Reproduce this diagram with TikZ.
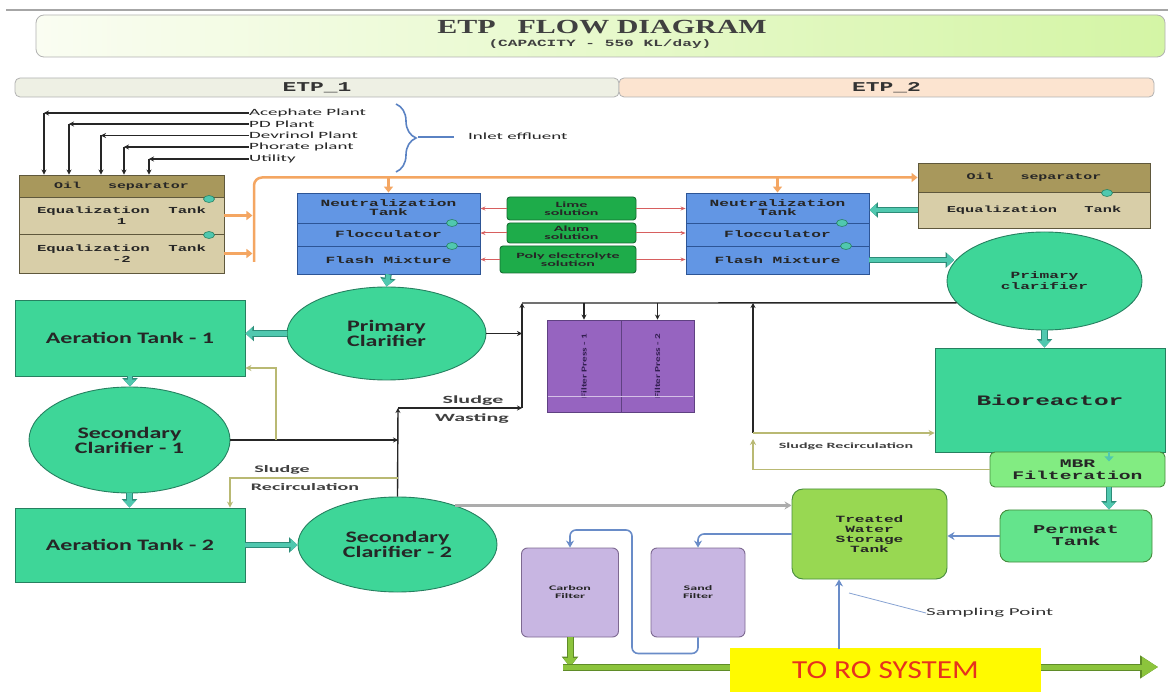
\documentclass[tikz,border=0pt]{standalone}
\usepackage{fontspec}
\usepackage{graphicx}
\setmainfont{Carlito}
\newfontfamily\fM{Liberation Mono}[FakeStretch=1.7]
\newfontfamily\fT{Liberation Serif}[FakeStretch=1.5]
\newfontfamily\fS{Carlito}[FakeStretch=1.5]
\newfontfamily\fW{Carlito}[FakeStretch=2.0]
\newfontfamily\fR{Carlito}[FakeStretch=1.2]
\newcommand\FZ[2]{\fontsize{#1}{#2}\selectfont}
\usetikzlibrary{shapes.geometric,arrows.meta,decorations.pathreplacing}
\definecolor{tealF}{RGB}{62,214,152}
\definecolor{tealD}{RGB}{38,128,96}
\definecolor{tealA}{RGB}{80,200,175}
\definecolor{tealO}{RGB}{45,140,120}
\definecolor{blueF}{RGB}{98,150,228}
\definecolor{blueD}{RGB}{45,85,150}
\definecolor{oilF}{RGB}{168,152,92}
\definecolor{eqF}{RGB}{216,206,168}
\definecolor{brD}{RGB}{95,88,60}
\definecolor{chemF}{RGB}{30,172,74}
\definecolor{chemD}{RGB}{20,110,50}
\definecolor{purF}{RGB}{150,100,192}
\definecolor{purD}{RGB}{95,65,130}
\definecolor{lavF}{RGB}{200,182,226}
\definecolor{lavD}{RGB}{125,105,145}
\definecolor{mbrF}{RGB}{130,236,130}
\definecolor{permF}{RGB}{100,228,140}
\definecolor{twF}{RGB}{152,216,82}
\definecolor{grD}{RGB}{70,140,60}
\definecolor{orA}{RGB}{244,166,98}
\definecolor{khA}{RGB}{185,185,115}
\definecolor{pipeB}{RGB}{105,140,200}
\definecolor{roG}{RGB}{140,196,60}
\definecolor{roGD}{RGB}{95,140,40}
\definecolor{redA}{RGB}{215,95,95}
\definecolor{brc}{RGB}{90,130,195}
\definecolor{titL}{RGB}{250,253,242}
\definecolor{titR}{RGB}{212,245,165}
\definecolor{etpA}{RGB}{238,240,228}
\definecolor{etpB}{RGB}{252,228,208}
\definecolor{roY}{RGB}{255,250,0}
\definecolor{roT}{RGB}{230,50,30}
\tikzset{
  box/.style={draw, line width=0.9pt, inner sep=0pt, align=center, text=black!85},
  tealbox/.style={box, fill=tealF, draw=tealD, font=\fS\bfseries\FZ{16}{15}},
  clar/.style={ellipse, box, fill=tealF, draw=tealD, font=\fS\bfseries\FZ{16}{15}},
  bluebox/.style={box, fill=blueF, draw=blueD, minimum width=183pt, font=\fM\bfseries\FZ{9.5}{9}},
  oilbox/.style={box, fill=oilF, draw=brD, font=\fM\bfseries\FZ{8.8}{10}},
  eqbox/.style={box, fill=eqF, draw=brD, font=\fM\bfseries\FZ{9.2}{11}},
  chem/.style={box, fill=chemF, draw=chemD, rounded corners=3pt, font=\fW\bfseries\FZ{8}{8}},
  filt/.style={box, fill=lavF, draw=lavD, rounded corners=6pt, font=\fW\bfseries\FZ{7}{8}},
  bar/.style={draw=gray!60, line width=0.8pt, rounded corners=5pt, inner sep=0pt, minimum height=19pt, font=\fM\bfseries\FZ{13.5}{14}, text=black!80},
  plant/.style={inner sep=0pt, font=\fW\FZ{9.5}{10}, text=black!85},
  slbl/.style={inner sep=0pt, align=center, font=\fW\bfseries\FZ{11}{12}, text=black!75},
  valve/.style={ellipse, draw=tealD, fill=tealA, line width=0.6pt, minimum width=11pt, minimum height=7pt, inner sep=0pt},
  fat/.style={line width=4.5pt, draw=tealA, -{Triangle[length=7pt,width=12pt]},
              preaction={draw=tealO, line width=6.5pt, -{Triangle[length=8.5pt,width=15pt]}}},
  orng/.style={line width=2.5pt, draw=orA, -{Triangle[length=6pt,width=9pt]}},
  inl/.style={line width=1.3pt, draw=black!85, -{Stealth[length=5pt,width=5pt]}},
  blk/.style={line width=1.4pt, draw=black!85, -{Stealth[length=5pt,width=5pt]}},
  kh/.style={line width=1.6pt, draw=khA, -{Stealth[length=6pt,width=6pt]}},
  pipe/.style={line width=1.6pt, draw=pipeB, -{Stealth[length=7pt,width=8pt]}},
  redar/.style={line width=1pt, draw=redA, -{Stealth[length=5pt,width=4pt]}},
  gryar/.style={line width=2.5pt, draw=gray!65, -{Stealth[length=7pt,width=8pt]}},
  grn/.style={line width=5pt, draw=roG, -{Triangle[length=9pt,width=13pt]},
              preaction={draw=roGD, line width=7pt, -{Triangle[length=10.5pt,width=16pt]}}},
  grnbig/.style={line width=5pt, draw=roG, -{Triangle[length=16pt,width=19pt]},
              preaction={draw=roGD, line width=7pt, -{Triangle[length=18pt,width=22pt]}}},
}
\begin{document}
\begin{tikzpicture}[x=1pt,y=-1pt]
\useasboundingbox (0,0) rectangle (1168,692);
\fill[white] (0,0) rectangle (1168,692);
\draw[gray!70, line width=2pt] (6,10) -- (1168,10);

% ---- title and section bars
\node[draw=gray!60, line width=0.8pt, rounded corners=8pt, left color=titL, right color=titR,
      minimum width=1129pt, minimum height=42pt, inner sep=0pt] (title) at (600.5,36) {};
\node[inner sep=0pt, font=\fT\bfseries\FZ{20}{20}, text=black!75] (ttl) at (602,27) {ETP\hspace{1.1em}FLOW DIAGRAM};
\node[inner sep=0pt, font=\fM\bfseries\FZ{9.5}{10}, text=black!75] (cap) at (600,44) {(CAPACITY - 550 KL/day)};
\node[bar, fill=etpA, minimum width=604pt] (etp1) at (317,87.5) {ETP\_1};
\node[bar, fill=etpB, minimum width=535pt] (etp2) at (886.5,87.5) {ETP\_2};

% ---- inlet sources
\node[plant, anchor=west] (pA) at (249,113) {Acephate Plant};
\node[plant, anchor=west] (pB) at (249,124) {PD Plant};
\node[plant, anchor=west] (pC) at (249,135.5) {Devrinol Plant};
\node[plant, anchor=west] (pD) at (249,147) {Phorate plant};
\node[plant, anchor=west] (pE) at (249,159) {Utility};
\node[inner sep=0pt, anchor=west, font=\fW\FZ{9.5}{10}, text=black!85] (inlet) at (468,136) {Inlet effluent};
\coordinate (cA) at (44,113);
\coordinate (cB) at (69,124);
\coordinate (cC) at (101,135.5);
\coordinate (cD) at (124,147);
\coordinate (cE) at (149,159);
\coordinate (bt) at (418,137);

% ---- ETP 1 front end
\node[oilbox, minimum width=205pt, minimum height=22pt] (oilL) at (121.5,186) {Oil~~~separator};
\node[eqbox, minimum width=205pt, minimum height=37pt] (eq1) at (121.5,215.5) {Equalization~~Tank\\1};
\node[eqbox, minimum width=205pt, minimum height=39pt] (eq2) at (121.5,253.5) {Equalization~~Tank\\-2};
\node[bluebox, minimum height=30pt] (neutL) at (388.5,208) {Neutralization\\Tank};
\node[bluebox, minimum height=23pt] (flocL) at (388.5,234.5) {Flocculator};
\node[bluebox, minimum height=28pt] (flashL) at (388.5,260) {Flash Mixture};
\node[chem, minimum width=129pt, minimum height=23pt] (lime) at (571.5,208.5) {Lime\\solution};
\node[chem, minimum width=129pt, minimum height=20pt] (alum) at (571.5,233) {Alum\\solution};
\node[chem, minimum width=136pt, minimum height=27pt] (poly) at (568,259.5) {Poly electrolyte\\solution};
\node[bluebox, minimum height=30pt] (neutR) at (777.5,208) {Neutralization\\Tank};
\node[bluebox, minimum height=23pt] (flocR) at (777.5,234.5) {Flocculator};
\node[bluebox, minimum height=28pt] (flashR) at (777.5,260) {Flash Mixture};
\node[oilbox, minimum width=232pt, minimum height=29pt] (oilR) at (1034,177.5) {Oil~~~separator};
\node[eqbox, minimum width=232pt, minimum height=36pt, font=\fM\bfseries\FZ{9}{10}] (eqR) at (1034,210) {Equalization~~~Tank};

\node[valve] (v1) at (209,199) {};
\node[valve] (v2) at (209,235) {};
\node[valve] (v3) at (452,223) {};
\node[valve] (v4) at (452,246) {};
\node[valve] (v5) at (842,223) {};
\node[valve] (v6) at (846,246) {};
\node[valve] (v7) at (1107,193) {};

% ---- ETP 1 biological section
\node[clar, minimum width=199pt, minimum height=93pt] (clarL) at (386.5,333.5) {Primary\\Clarifier};
\node[tealbox, minimum width=230pt, minimum height=76pt] (aer1) at (130,338) {Aeration Tank - 1};
\node[clar, minimum width=201pt, minimum height=106pt] (sec1) at (129.5,440) {Secondary\\Clarifier - 1};
\node[tealbox, minimum width=230pt, minimum height=74pt] (aer2) at (130,545) {Aeration Tank - 2};
\node[clar, minimum width=199pt, minimum height=95pt] (sec2) at (397.5,544.5) {Secondary\\Clarifier - 2};

% ---- filter presses
\node[box, fill=purF, draw=purD, minimum width=74pt, minimum height=92pt, font=\fS\bfseries\FZ{7.5}{8}, text={rgb,255:red,50;green,30;blue,80}] (fp1) at (584,366) {\rotatebox{90}{Filter Press - 1}};
\node[box, fill=purF, draw=purD, minimum width=73pt, minimum height=92pt, font=\fS\bfseries\FZ{7.5}{8}, text={rgb,255:red,50;green,30;blue,80}] (fp2) at (657.5,366) {\rotatebox{90}{Filter Press - 2}};
\draw[purF!40!white, line width=1pt] (548,397) -- (693,397);

% ---- ETP 2 biological section
\node[ellipse, box, fill=tealF, draw=tealD, minimum width=195pt, minimum height=98pt, font=\fM\bfseries\FZ{9.5}{11}] (clarR) at (1044.5,281) {Primary\\clarifier};
\node[box, fill=tealF, draw=tealD, minimum width=230pt, minimum height=104pt, font=\fM\bfseries\FZ{14.4}{15}] (bio) at (1050,400) {Bioreactor};
\node[box, fill=mbrF, draw=grD, rounded corners=5pt, minimum width=175pt, minimum height=35pt, font=\fM\bfseries\FZ{11.6}{12}] (mbr) at (1077.5,469.5) {MBR\\Filteration};
\node[box, fill=permF, draw=grD, rounded corners=9pt, minimum width=152pt, minimum height=52pt, font=\fM\bfseries\FZ{12}{12}] (perm) at (1076,536) {Permeat\\Tank};
\node[box, fill=twF, draw=grD, rounded corners=11pt, minimum width=155pt, minimum height=90pt, font=\fM\bfseries\FZ{9.5}{10}] (twst) at (869.5,534) {Treated\\Water\\Storage\\Tank};
\node[filt, minimum width=97pt, minimum height=89pt] (carbon) at (570,592.5) {Carbon\\Filter};
\node[filt, minimum width=94pt, minimum height=89pt] (sand) at (698,592.5) {Sand\\Filter};

% ---- labels
\node[slbl] (swA) at (473,401) {Sludge};
\node[slbl] (swB) at (472,419) {Wasting};
\node[slbl, font=\fW\bfseries\FZ{10}{11}] (srA) at (282,470) {Sludge};
\node[slbl, font=\fW\bfseries\FZ{10}{11}] (srB) at (305,487) {Recirculation};
\node[slbl, font=\fW\bfseries\FZ{8}{9}] (srC) at (846,446) {Sludge Recirculation};
\node[inner sep=0pt, anchor=west, font=\fW\FZ{10.5}{11}, text=black!80] (samp) at (926,613) {Sampling Point};

% ---- coordinates for pipe corners
\coordinate (j1) at (398,440);
\coordinate (k1) at (276,440);
\coordinate (k2) at (276,368);
\coordinate (j2) at (398,408);
\coordinate (j3) at (522,408);
\coordinate (j4) at (522,303);
\coordinate (m1) at (753,433);
\coordinate (m2) at (753,439);
\coordinate (r1) at (398,478);
\coordinate (r2) at (230,478);
\coordinate (op) at (254,262);
\coordinate (oh) at (254,178);
\coordinate (xm) at (1109,0);
\coordinate (lp) at (632,530);
\coordinate (g1) at (563,667);
\coordinate (g2) at (1158,667);
\coordinate (sxb) at (839,649);
\coordinate (sp) at (849,593);

% ---- inlet lines
\foreach \p/\c in {pA/cA,pB/cB,pC/cC,pD/cD,pE/cE}{
  \draw[inl] (\p.west) -- (\c);
  \draw[inl] (\c) -- (\c |- oilL.north);
}
\draw[brc, line width=1.6pt, decorate, decoration={brace, amplitude=20pt}] (396,104) -- (396,172);
\draw[brc, line width=1.4pt] (bt) -- ++(36,0);

% ---- orange distribution
\draw[orng] (eq1.east) -- ++(28,0);
\draw[orng] (eq2.east) -- ++(28,0);
\draw[orng, rounded corners=8pt] (op) |- (oilR.west);
\draw[orng] (neutL.north |- oh) -- (neutL.north);
\draw[orng] (neutR.north |- oh) -- (neutR.north);

% ---- chemical dosing
\draw[redar] (lime.west) -- (lime.west -| neutL.east);
\draw[redar] (alum.west) -- (alum.west -| flocL.east);
\draw[redar] (poly.west) -- (poly.west -| flashL.east);
\draw[redar] (lime.east) -- (lime.east -| neutR.west);
\draw[redar] (alum.east) -- (alum.east -| flocR.west);
\draw[redar] (poly.east) -- (poly.east -| flashR.west);

% ---- main teal flows
\draw[fat] (flashL.south) -- (clarL.north);
\draw[fat] (clarL.west) -- (clarL.west -| aer1.east);
\draw[fat] (aer1.south) -- (aer1.south |- sec1.north);
\draw[fat] (sec1.south) -- (sec1.south |- aer2.north);
\draw[fat] (aer2.east) -- (aer2.east -| sec2.west);
\draw[fat] (eqR.west) -- (eqR.west -| neutR.east);
\draw[fat] (flashR.east) -- (flashR.east -| clarR.168);
\draw[fat] (clarR.south) -- (clarR.south |- bio.north);
\draw[tealA, line width=2.5pt, -{Triangle[length=5pt,width=9pt]}] (bio.south -| xm) -- ++(0,9);
\draw[fat] (mbr.south -| xm) -- (perm.north -| xm);

% ---- sludge lines
\draw[blk] (sec1.east) -- (j1);
\draw[kh] (k1) -- (k2) -- (k2 -| aer1.east);
\draw[blk] (sec2.north) -- (j2);
\draw[blk] (j2) -- (j3);
\draw[blk] (j3) -- (j4);
\draw[blk] (clarL.east) -- (clarL.east -| j3);
\draw[line width=1.4pt, draw=black!85] (j4) -- (clarR.194);
\draw[blk] (fp1.north |- j4) -- (fp1.north);
\draw[blk] (fp2.north |- j4) -- (fp2.north);
\draw[blk] (m1) -- (m1 |- j4);
\draw[kh] (m1) -- (m1 -| bio.west);
\draw[kh] (mbr.west) -| (m2);
\draw[kh] (r1) -- (r2) -- (r2 |- aer2.north);

% ---- treated water
\draw[gryar] (sec2.34) -- (sec2.34 -| twst.west);
\draw[pipe] (perm.west) -- (perm.west -| twst.east);
\draw[pipe, rounded corners=6pt] (twst.west) -| (sand.north);
\draw[pipe, rounded corners=6pt] (sand.south) -- ++(0,16) -| (lp) -| (carbon.north);
\draw[grn] (carbon.south) -- (carbon.south |- g1);
\draw[grnbig] (g1) -- (g2);
\node[fill=roY, inner sep=0pt, minimum width=311pt, minimum height=44pt, font=\fR\FZ{26}{26}, text=roT] (ro) at (885.5,670) {TO RO SYSTEM};
\draw[pipe] (sxb) -- (sxb |- twst.south);
\draw[pipeB!80, line width=0.8pt] (samp.west) -- (sp);
\end{tikzpicture}
\end{document}
